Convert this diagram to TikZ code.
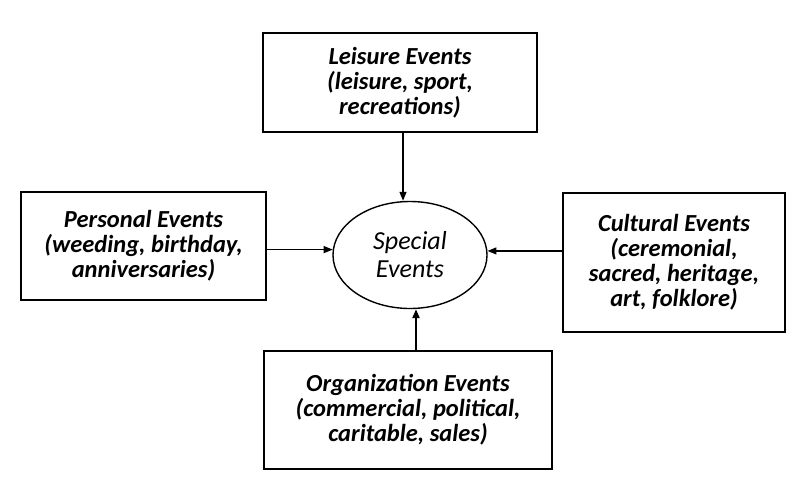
\documentclass[tikz,border=0pt]{standalone}
\usepackage{fontspec}
\setmainfont{Carlito}
\usetikzlibrary{positioning, arrows.meta, shapes.geometric}

\begin{document}
\begin{tikzpicture}[
    x=1pt, y=-1pt,
    font=\fontsize{24.5}{25}\selectfont\bfseries\itshape,
    >={Triangle[length=9pt, width=7pt]},
    event_box/.style={draw, line width=1.6pt, align=center, inner sep=0pt, fill=white},
    centre_oval/.style={draw, line width=1.4pt, ellipse, inner sep=0pt, minimum width=154pt, minimum height=107pt, align=center},
    arrow/.style={->, line width=1.3pt}
]
\useasboundingbox (0,0) rectangle (800,487);

% Centre
\node[centre_oval, font=\fontsize{26}{28}\selectfont\itshape] (special) at (410,255) {Special\\Events};

% Surrounding categories
\node[event_box, minimum width=274pt, minimum height=99pt] (leisure) at (400,82.5) {Leisure Events\\(leisure, sport,\\recreations)};
\node[event_box, minimum width=245pt, minimum height=108pt] (personal) at (143.5,246) {Personal Events\\(weeding, birthday,\\anniversaries)};
\node[event_box, minimum width=222pt, minimum height=139pt] (cultural) at (674,262.5) {Cultural Events\\(ceremonial,\\sacred, heritage,\\art, folklore)};
\node[event_box, minimum width=288pt, minimum height=118pt] (organization) at (408,410) {Organization Events\\(commercial, political,\\caritable, sales)};

% Connections into the centre
\draw[arrow] ([xshift=3pt]leisure.south) -- ([xshift=3pt]leisure.south |- special.north);
\draw[arrow] (personal.east |- special.176) -- (special.176);
\draw[arrow] (cultural.west |- special.3) -- (special.3);
\draw[arrow, line width=2.2pt] ([xshift=8pt]organization.north) -- ([xshift=8pt]organization.north |- special.south);

\end{tikzpicture}
\end{document}
